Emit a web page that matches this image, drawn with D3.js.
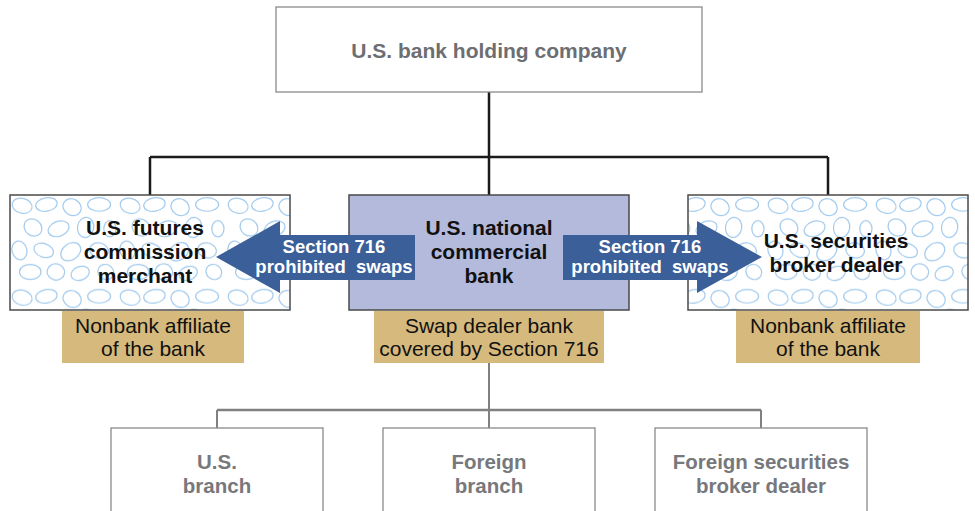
<!DOCTYPE html>
<html>
<head>
<meta charset="utf-8">
<script src="https://cdn.jsdelivr.net/npm/d3@7"></script>
<style>
  body { margin: 0; background: #fff; }
  svg text { font-family: "Liberation Sans", Arial, sans-serif; white-space: pre; }
</style>
</head>
<body>
<div id="chart"></div>
<script>
// diagram content
var topLabel = ["U.S. bank holding company"];
var midNames = ["fcm", "bank", "bd"];
var midLabels = [
  ["U.S. futures", "commission", "merchant"],
  ["U.S. national", "commercial", "bank"],
  ["U.S. securities", "broker dealer"]
];
var tagLabels = [
  ["Nonbank affiliate", "of the bank"],
  ["Swap dealer bank", "covered by Section 716"],
  ["Nonbank affiliate", "of the bank"]
];
var arrowLabels = ["Section 716", "prohibited  swaps"];
var bottomNames = ["us", "foreign", "fsbd"];
var bottomLabels = [
  ["U.S.", "branch"],
  ["Foreign", "branch"],
  ["Foreign securities", "broker dealer"]
];

var width = 975, height = 511;

var svg = d3.select("#chart").append("svg")
    .attr("width", width)
    .attr("height", height);

// pebble texture for the nonbank boxes
var defs = svg.append("defs");
var pat = defs.append("pattern")
    .attr("id", "pebbles")
    .attr("patternUnits", "userSpaceOnUse")
    .attr("patternTransform", "translate(10,195) scale(1.35)")
    .attr("width", 80).attr("height", 68);
var pebbles = [
  [9,8,7.5,5.5,15],[27,7,8,5,-10],[46,9,7,6,30],[66,7,8.5,5,0],
  [17,24,7,6,40],[36,25,8,5.5,-20],[56,24,6,7.5,10],[74,25,4.5,6,0],
  [7,41,5.5,7,-15],[25,41,7.5,5,20],[45,42,8,6,-35],[66,41,7,5.5,15],
  [15,57,8,5.5,0],[34,57,6.5,6,10],[52,58,7,5,-20],[71,57,6,5.5,30]
];
pat.append("rect").attr("width", 80).attr("height", 68).attr("fill", "#fff");
pat.selectAll("ellipse").data(pebbles).enter().append("ellipse")
    .attr("cx", function(d) { return d[0]; })
    .attr("cy", function(d) { return d[1]; })
    .attr("rx", function(d) { return d[2]; })
    .attr("ry", function(d) { return d[3]; })
    .attr("transform", function(d) { return "rotate(" + d[4] + "," + d[0] + "," + d[1] + ")"; })
    .attr("fill", "none")
    .attr("stroke", "#a3cbee")
    .attr("stroke-width", 0.9);

var xMid = d3.scalePoint().domain(midNames).range([150, 828]);
var xBot = d3.scalePoint().domain(bottomNames).range([217, 761]);

var topY = 7, topH = 85, busY = 157;
var midY = 195, midW = 280, midH = 115;
var tagH = 53;
var botBus = 410, botY = 428, botW = 212;

function lines(g, arr, cx, y0, dy, size, weight, fill) {
  g.selectAll(null).data(arr).enter().append("text")
    .attr("x", cx)
    .attr("y", function(d, i) { return y0 + i * dy; })
    .attr("text-anchor", "middle")
    .attr("dominant-baseline", "central")
    .attr("xml:space", "preserve")
    .style("font-size", size + "px")
    .style("font-weight", weight)
    .style("fill", fill)
    .text(function(d) { return d; });
}

// bottom tree (gray)
var cx = xMid("bank");
svg.append("line").attr("x1", cx).attr("x2", cx).attr("y1", midY + midH + tagH).attr("y2", botBus)
    .attr("stroke", "#808080").attr("stroke-width", 2);
svg.append("line").attr("x1", xBot("us")).attr("x2", xBot("fsbd")).attr("y1", botBus).attr("y2", botBus)
    .attr("stroke", "#808080").attr("stroke-width", 2.5);
bottomNames.forEach(function(n, i) {
  var x = xBot(n);
  svg.append("line").attr("x1", x).attr("x2", x).attr("y1", botBus).attr("y2", botY)
      .attr("stroke", "#808080").attr("stroke-width", 2);
  svg.append("rect").attr("x", x - botW / 2).attr("y", botY).attr("width", botW).attr("height", 110)
      .attr("fill", "#fff").attr("stroke", "#8a8a8a").attr("stroke-width", 1.3);
  lines(svg, bottomLabels[i], x, 461, 24, 20.5, "bold", "#77787b");
});

// top tree (black)
svg.append("line").attr("x1", cx).attr("x2", cx).attr("y1", topY + topH).attr("y2", busY)
    .attr("stroke", "#1a1a1a").attr("stroke-width", 2.5);
svg.append("line").attr("x1", xMid("fcm")).attr("x2", xMid("bd")).attr("y1", busY).attr("y2", busY)
    .attr("stroke", "#1a1a1a").attr("stroke-width", 2.5);
midNames.forEach(function(n) {
  svg.append("line").attr("x1", xMid(n)).attr("x2", xMid(n)).attr("y1", busY).attr("y2", midY)
      .attr("stroke", "#1a1a1a").attr("stroke-width", 2.5);
});

// top box
svg.append("rect").attr("x", 276).attr("y", topY).attr("width", 426).attr("height", topH)
    .attr("fill", "#fff").attr("stroke", "#8a8a8a").attr("stroke-width", 1.3);
lines(svg, topLabel, cx, 50, 0, 21, "bold", "#6d6e71");

// middle boxes
midNames.forEach(function(n, i) {
  var x = xMid(n);
  svg.append("rect").attr("x", x - midW / 2).attr("y", midY).attr("width", midW).attr("height", midH)
      .attr("fill", n === "bank" ? "#b4badb" : "url(#pebbles)")
      .attr("stroke", "#4a4a4a").attr("stroke-width", 1.5);
});

// tan tags
var tagW = [182, 230, 184];
midNames.forEach(function(n, i) {
  var x = xMid(n) + (i === 0 ? 3 : 0);
  svg.append("rect").attr("x", x - tagW[i] / 2).attr("y", midY + midH + 1).attr("width", tagW[i]).attr("height", tagH - 1)
      .attr("fill", "#d6b97c");
  lines(svg, tagLabels[i], x, 325, 23, 21, "normal", "#111");
});

// arrows
var arrowColor = "#3a5f99";
var shaftTop = 235, shaftBot = 280, headTop = 221, headBot = 293, midArrowY = 257;
var leftArrow = [[415, shaftTop], [280, shaftTop], [280, headTop], [216, midArrowY], [280, headBot], [280, shaftBot], [415, shaftBot]];
var rightArrow = [[563, shaftTop], [697, shaftTop], [697, headTop], [762, midArrowY], [697, headBot], [697, shaftBot], [563, shaftBot]];
[leftArrow, rightArrow].forEach(function(p) {
  svg.append("path").attr("d", d3.line()(p) + "Z").attr("fill", arrowColor);
});

// box titles (drawn after arrows)
midNames.forEach(function(n, i) {
  var nl = midLabels[i].length;
  var y0 = nl === 3 ? 227 : 240;
  lines(svg, midLabels[i], xMid(n) + (i === 0 ? -5 : i === 2 ? 8 : 0), y0, 24, 21, "bold", "#111");
});

lines(svg, arrowLabels, 334, 246, 20, 18.5, "bold", "#fff");
lines(svg, arrowLabels, 650, 246, 20, 18.5, "bold", "#fff");
</script>
</body>
</html>
